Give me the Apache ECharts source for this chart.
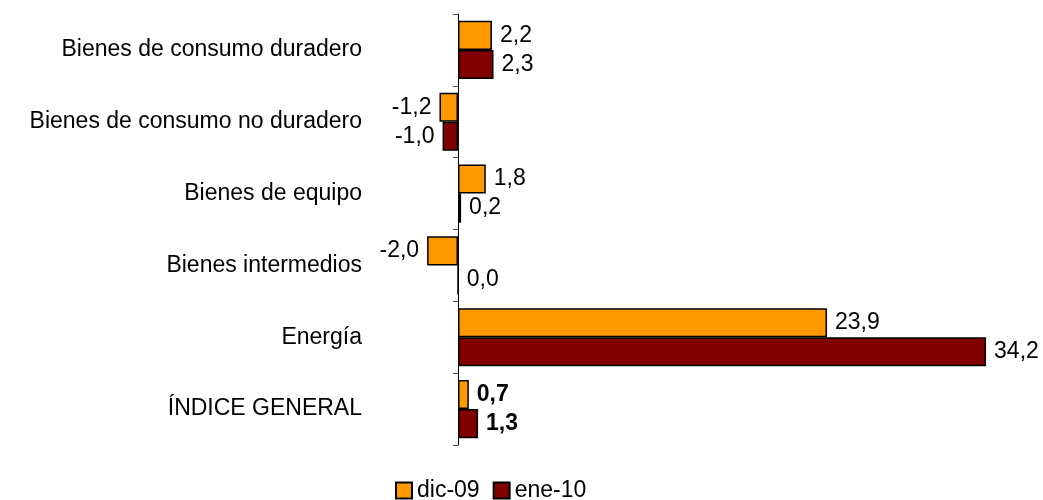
<!DOCTYPE html>
<html>
<head>
<meta charset="utf-8">
<script src="https://cdn.jsdelivr.net/npm/echarts@6/dist/echarts.min.js"></script>
<style>html,body{margin:0;padding:0;background:#fff}#c{width:1043px;height:500px}</style>
</head>
<body>
<div id="c"></div>
<script>
var categories = ['Bienes de consumo duradero', 'Bienes de consumo no duradero', 'Bienes de equipo', 'Bienes intermedios', 'Energía', 'ÍNDICE GENERAL'];
var seriesNames = ['dic-09', 'ene-10'];
var dic09 = [2.2, -1.2, 1.8, -2.0, 23.9, 0.7];
var ene10 = [2.3, -1.0, 0.2, 0.0, 34.2, 1.3];
var boldCategory = 'ÍNDICE GENERAL';

var FONT = "'Liberation Sans', Arial, sans-serif";
var FS = 23;
function fmt(v){ return v.toFixed(1).replace('.', ','); }
function makeData(arr){
  return arr.map(function(v, i){
    return {
      value: v,
      label: {
        position: v < 0 ? 'left' : 'right',
        fontWeight: categories[i] === boldCategory ? 'bold' : 'normal'
      }
    };
  });
}
function makeSeries(name, arr, color){
  return {
    name: name,
    type: 'bar',
    data: makeData(arr),
    barGap: '0%',
    barCategoryGap: '19%',
    itemStyle: { color: color, borderColor: '#000', borderWidth: 1.5 },
    label: {
      show: true,
      distance: 8,
      color: '#000',
      fontSize: FS,
      fontFamily: FONT,
      formatter: function(p){ return fmt(p.value); }
    },
    silent: true,
    animation: false
  };
}
var chart = echarts.init(document.getElementById('c'));
chart.setOption({
  animation: false,
  grid: { left: 370, right: 44.6, top: 14, bottom: 55, containLabel: false, outerBoundsMode: 'none' },
  legend: {
    data: seriesNames,
    icon: 'rect',
    left: 395,
    top: 479,
    padding: 0,
    itemWidth: 16,
    itemHeight: 16,
    itemGap: 13,
    textStyle: { fontSize: FS, fontFamily: FONT, color: '#000' }
  },
  xAxis: {
    type: 'value',
    min: -5.7,
    max: 35,
    show: false
  },
  yAxis: {
    type: 'category',
    data: categories,
    inverse: true,
    axisLine: { show: true, onZero: true, lineStyle: { color: '#000', width: 1 } },
    axisTick: { show: true, length: 5, lineStyle: { color: '#555' } },
    axisLabel: { margin: 8, fontSize: FS, fontFamily: FONT, color: '#000' },
    splitLine: { show: false }
  },
  series: [
    makeSeries(seriesNames[0], dic09, '#FF9900'),
    makeSeries(seriesNames[1], ene10, '#800000')
  ]
});
</script>
</body>
</html>
